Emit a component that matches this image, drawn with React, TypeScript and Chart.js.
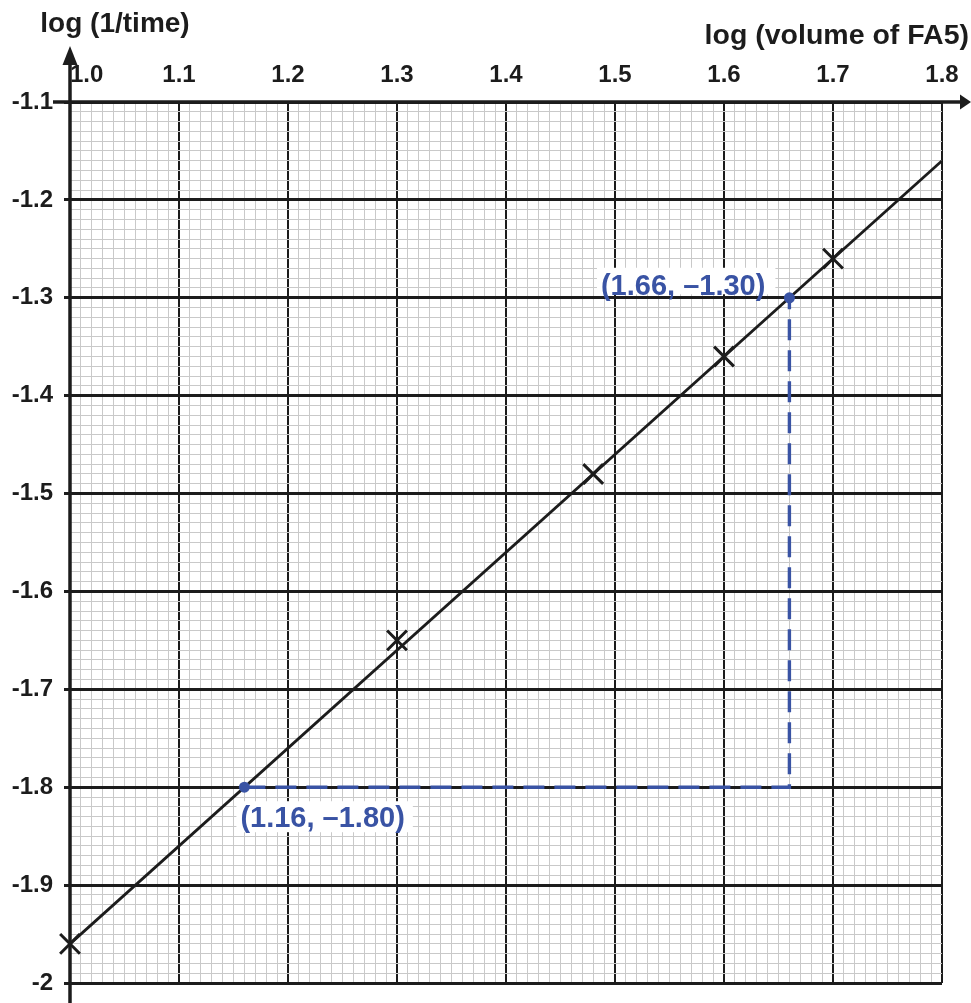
import React, { useEffect, useRef } from 'react';
import { Chart, registerables } from 'chart.js';

Chart.register(...registerables);

// ---- data ----
const xMajorValues = [1.0, 1.1, 1.2, 1.3, 1.4, 1.5, 1.6, 1.7, 1.8];
const xTickLabels = ['1.0', '1.1', '1.2', '1.3', '1.4', '1.5', '1.6', '1.7', '1.8'];
const yMajorValues = [-2.0, -1.9, -1.8, -1.7, -1.6, -1.5, -1.4, -1.3, -1.2, -1.1];
const yTickLabels = ['-2', '-1.9', '-1.8', '-1.7', '-1.6', '-1.5', '-1.4', '-1.3', '-1.2', '-1.1'];

const measuredX = [1.0, 1.3, 1.48, 1.6, 1.7];
const measuredY = [-1.96, -1.65, -1.48, -1.36, -1.26];

const fitX = [1.0, 1.8];
const fitY = [-1.96, -1.16];

const gradientX = [1.16, 1.66, 1.66];
const gradientY = [-1.8, -1.8, -1.3];
const gradientLabels = ['(1.16, \u20131.80)', '', '(1.66, \u20131.30)'];

const xTitle = 'log (volume of FA5)';
const yTitle = 'log (1/time)';

// ---- styles ----
const FONT = '"Liberation Sans", Arial, Helvetica, sans-serif';
const INK = '#1c1c1c';
const BLUE = '#3953a4';
const MINOR = '#c9c9c9';

const isMajor = (v: number) => Math.abs(v * 10 - Math.round(v * 10)) < 1e-6;

const decorPlugin = {
  id: 'decor',
  afterDatasetsDraw(chart: any) {
    const { ctx, chartArea: a, scales } = chart;
    ctx.save();
    ctx.strokeStyle = INK;
    ctx.fillStyle = INK;
    ctx.lineWidth = 3.5;
    ctx.lineCap = 'butt';
    // y axis with arrow
    ctx.beginPath();
    ctx.moveTo(a.left, chart.height);
    ctx.lineTo(a.left, 62);
    ctx.stroke();
    ctx.beginPath();
    ctx.moveTo(a.left, 46);
    ctx.lineTo(a.left - 7.5, 65);
    ctx.lineTo(a.left + 7.5, 65);
    ctx.closePath();
    ctx.fill();
    // x axis with arrow
    ctx.beginPath();
    ctx.moveTo(53, a.top);
    ctx.lineTo(chart.width - 8, a.top);
    ctx.stroke();
    ctx.beginPath();
    ctx.moveTo(chart.width, a.top);
    ctx.lineTo(chart.width - 11, a.top - 7.5);
    ctx.lineTo(chart.width - 11, a.top + 7.5);
    ctx.closePath();
    ctx.fill();

    // axis titles
    ctx.font = `bold 28px ${FONT}`;
    ctx.textBaseline = 'alphabetic';
    ctx.textAlign = 'center';
    ctx.fillText(yTitle, a.left + 45, 32);
    ctx.font = `bold 28.5px ${FONT}`;
    ctx.textAlign = 'right';
    ctx.fillText(xTitle, chart.width - 2, 44);

    // gradient point labels
    ctx.font = `bold 29px ${FONT}`;
    gradientLabels.forEach((lab, i) => {
      if (!lab) return;
      const px = scales.x.getPixelForValue(gradientX[i]);
      const py = scales.y.getPixelForValue(gradientY[i]);
      const w = ctx.measureText(lab).width;
      ctx.fillStyle = '#ffffff';
      let left: number, base: number;
      if (i === 0) {
        left = px - 4;
        base = py + 40;
        ctx.fillRect(left - 4, base - 26, w + 12, 31);
      } else {
        left = px - 24 - w;
        base = py - 3;
        ctx.fillRect(left - 4, base - 27, w + 14, 26.5);
      }
      ctx.fillStyle = BLUE;
      ctx.textAlign = 'left';
      ctx.fillText(lab, left, base);
    });
    ctx.restore();
  },
};

export default function App() {
  const ref = useRef<HTMLCanvasElement | null>(null);

  useEffect(() => {
    if (!ref.current) return;
    const chart = new Chart(ref.current, {
      type: 'scatter',
      data: {
        datasets: [
          {
            label: 'gradient',
            data: gradientX.map((x, i) => ({ x, y: gradientY[i] })),
            showLine: true,
            borderColor: BLUE,
            borderWidth: 3.4,
            borderDash: [21, 10],
            pointRadius: (c: any) => (gradientLabels[c.dataIndex] ? 5.5 : 0),
            pointBackgroundColor: BLUE,
            pointBorderColor: BLUE,
            pointBorderWidth: 0,
            clip: false,
          } as any,
          {
            label: 'measured',
            data: measuredX.map((x, i) => ({ x, y: measuredY[i] })),
            showLine: false,
            pointStyle: 'crossRot',
            pointRadius: 14,
            pointBorderWidth: 3,
            borderColor: INK,
            pointBorderColor: INK,
            clip: false,
          } as any,
          {
            label: 'fit',
            data: fitX.map((x, i) => ({ x, y: fitY[i] })),
            showLine: true,
            borderColor: INK,
            borderWidth: 2.8,
            pointRadius: 0,
            clip: false,
          } as any,
        ],
      },
      options: {
        animation: false,
        responsive: false,
        events: [],
        layout: { padding: { left: 0, top: 0, right: 29, bottom: 20 } },
        plugins: { legend: { display: false }, tooltip: { enabled: false } },
        scales: {
          x: {
            type: 'linear',
            position: 'top',
            min: 1.0,
            max: 1.8,
            afterFit: (s: any) => {
              s.height = 102;
              s.paddingLeft = 0;
              s.paddingRight = 0;
            },
            border: { display: false },
            grid: {
              drawTicks: false,
              color: (c: any) => (isMajor(c.tick.value) ? INK : MINOR),
              lineWidth: (c: any) => (isMajor(c.tick.value) ? 2 : 1),
            },
            ticks: {
              stepSize: 0.01,
              autoSkip: false,
              maxRotation: 0,
              minRotation: 0,
              padding: 12,
              color: INK,
              font: { family: FONT, size: 24, weight: 'bold' },
              callback: (v: any) => {
                const i = xMajorValues.findIndex((m) => Math.abs(m - v) < 1e-6);
                if (i < 0) return '';
                return i === 0 ? '     ' + xTickLabels[i] : xTickLabels[i];
              },
            },
          },
          y: {
            type: 'linear',
            position: 'left',
            min: -2.0,
            max: -1.1,
            afterFit: (s: any) => {
              s.width = 70;
              s.paddingTop = 0;
              s.paddingBottom = 0;
            },
            border: { display: false },
            grid: {
              drawTicks: true,
              tickLength: 6,
              color: (c: any) => (isMajor(c.tick.value) ? INK : MINOR),
              lineWidth: (c: any) => (isMajor(c.tick.value) ? 3 : 1),
              tickColor: (c: any) => (isMajor(c.tick.value) ? INK : 'rgba(0,0,0,0)'),
              tickWidth: (c: any) => (isMajor(c.tick.value) ? 3 : 1),
            },
            ticks: {
              stepSize: 0.01,
              autoSkip: false,
              padding: 11,
              color: INK,
              font: { family: FONT, size: 24, weight: 'bold' },
              callback: (v: any) => {
                const i = yMajorValues.findIndex((m) => Math.abs(m - v) < 1e-6);
                return i < 0 ? '' : yTickLabels[i];
              },
            },
          },
        },
      },
      plugins: [decorPlugin],
    } as any);
    return () => chart.destroy();
  }, []);

  return (
    <div style={{ position: 'absolute', left: 0, top: 0, width: 971, height: 1003, background: '#fff' }}>
      <canvas ref={ref} width={971} height={1003} style={{ display: 'block', width: 971, height: 1003 }} />
    </div>
  );
}
